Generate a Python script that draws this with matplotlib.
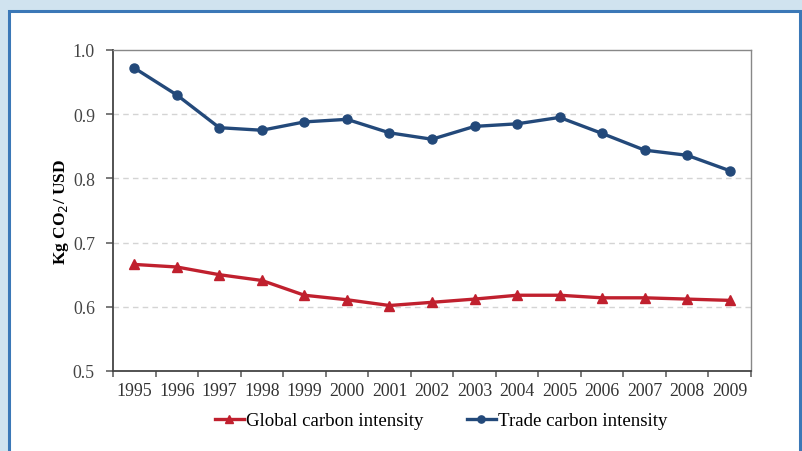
import numpy as np
import matplotlib.pyplot as plt
from matplotlib.patches import Rectangle

# Datos
years = ['1995', '1996', '1997', '1998', '1999', '2000', '2001', '2002',
         '2003', '2004', '2005', '2006', '2007', '2008', '2009']
global_ci = [0.666, 0.662, 0.650, 0.641, 0.618, 0.611, 0.602, 0.607,
             0.612, 0.618, 0.618, 0.614, 0.614, 0.612, 0.610]
trade_ci = [0.972, 0.930, 0.879, 0.875, 0.888, 0.892, 0.871, 0.861,
            0.881, 0.885, 0.895, 0.870, 0.844, 0.836, 0.812]

red = '#c0202e'
blue = '#23497a'

plt.rcParams['font.family'] = ['Liberation Serif', 'DejaVu Serif']

fig = plt.figure(figsize=(8.03, 4.52), dpi=100)
fig.patch.set_facecolor('#d0e3ef')

# Recuadro blanco con borde azul (detrás de los ejes)
fig.patches.append(Rectangle((9.5 / 803, -0.1), (800 - 9.5) / 803, 1.1 - 11.5 / 452,
                             transform=fig.transFigure, facecolor='white',
                             edgecolor='#3b78b7', linewidth=2.2, zorder=-5))

ax = fig.add_axes([113 / 803, 1 - 372 / 452, (751 - 113) / 803, (372 - 51) / 452])
ax.set_facecolor('white')

x = np.arange(len(years))
ax.plot(x, global_ci, color=red, linewidth=2.4, marker='^', markersize=6.5,
        label='Global carbon intensity', zorder=3)
ax.plot(x, trade_ci, color=blue, linewidth=2.4, marker='o', markersize=6.5,
        label='Trade carbon intensity', zorder=3)

ax.set_xlim(-0.5, len(years) - 0.5)
ax.set_ylim(0.5, 1.0)
ax.set_yticks([0.5, 0.6, 0.7, 0.8, 0.9, 1.0])
ax.set_yticklabels(['0.5', '0.6', '0.7', '0.8', '0.9', '1.0'])
ax.set_xticks(x)
ax.set_xticklabels(years)
ax.set_xticks(np.arange(-0.5, len(years), 1), minor=True)
ax.tick_params(axis='x', which='major', length=0, pad=8, labelsize=12.8, labelcolor='#333333')
ax.tick_params(axis='x', which='minor', length=4, width=1.1, color='#555555', direction='out')
ax.tick_params(axis='y', length=5, width=1.1, color='#555555', pad=8, labelsize=12.8,
               labelcolor='#444444')

for y in [0.6, 0.7, 0.8, 0.9]:
    ax.axhline(y, color='#d4d4d4', linewidth=1, linestyle=(0, (4, 3)), zorder=1)

for s in ['left', 'bottom']:
    ax.spines[s].set_color('#444444')
    ax.spines[s].set_linewidth(1.3)
for s in ['top', 'right']:
    ax.spines[s].set_color('#888888')
    ax.spines[s].set_linewidth(1.0)

ax.set_ylabel('Kg CO$_2$/ USD', fontsize=12.5, fontweight='bold', labelpad=1)

leg = ax.legend(loc='upper center', bbox_to_anchor=(0.515, -0.075), ncol=2, frameon=False,
                fontsize=13.6, handlelength=1.5, handletextpad=0.15, columnspacing=2.3,
                markerscale=0.8)

fig.savefig('out.png', dpi=100, facecolor=fig.get_facecolor())
